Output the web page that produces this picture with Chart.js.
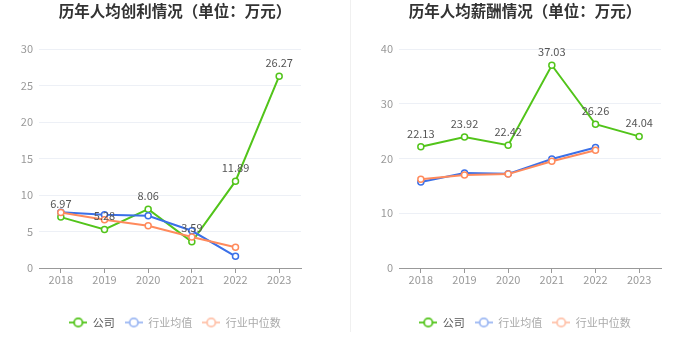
<!DOCTYPE html>
<html>
<head>
<meta charset="utf-8">
<script src="https://cdn.jsdelivr.net/npm/chart.js@4"></script>
<style>
  body { margin: 0; background: #fff; }
  .wrap { position: relative; width: 700px; height: 359px; }
  .box { position: absolute; top: 0; width: 350px; height: 359px; }
  .divider { position: absolute; left: 350px; top: 0; width: 1px; height: 332px; background: #f0f0f0; }
</style>
</head>
<body>
<div class="wrap">
  <div class="box" style="left:0"><canvas id="profitChart" width="350" height="359"></canvas></div>
  <div class="divider"></div>
  <div class="box" style="left:350px"><canvas id="salaryChart" width="350" height="359"></canvas></div>
</div>
<script>
const years = ['2018', '2019', '2020', '2021', '2022', '2023'];
const seriesNames = ['公司', '行业均值', '行业中位数'];

// 人均创利
const profitCompany = [6.97, 5.28, 8.06, 3.59, 11.89, 26.27];
const profitAvg = [7.65, 7.28, 7.15, 5.1, 1.6, null];
const profitMedian = [7.6, 6.6, 5.8, 4.25, 2.85, null];

// 人均薪酬
const salaryCompany = [22.13, 23.92, 22.42, 37.03, 26.26, 24.04];
const salaryAvg = [15.7, 17.35, 17.2, 19.9, 22.0, null];
const salaryMedian = [16.2, 17.0, 17.15, 19.5, 21.5, null];

const colors = ['#52C41A', '#3B70E8', '#FF8A5C'];
const legendColors = ['#52C41A', '#9DB8F3', '#FFC2AA'];
const legendText = ['#555', '#aaa', '#aaa'];
const font = '"Noto Sans CJK SC", "Noto Sans", sans-serif';

function legendIcon(color) {
  const c = document.createElement('canvas');
  c.width = 18; c.height = 12;
  const g = c.getContext('2d');
  g.strokeStyle = color;
  g.lineWidth = 1.8;
  g.beginPath(); g.moveTo(0, 6); g.lineTo(18, 6); g.stroke();
  g.fillStyle = '#fff';
  g.beginPath(); g.arc(9, 6, 4.2, 0, Math.PI * 2); g.fill(); g.stroke();
  return c;
}
const icons = legendColors.map(legendIcon);

const valueLabels = {
  id: 'valueLabels',
  afterDatasetsDraw(chart) {
    const ctx = chart.ctx;
    const meta = chart.getDatasetMeta(0);
    const data = chart.data.datasets[0].data;
    ctx.save();
    ctx.font = '11px ' + font;
    ctx.fillStyle = '#555';
    ctx.textAlign = 'center';
    ctx.textBaseline = 'bottom';
    meta.data.forEach((pt, i) => {
      ctx.fillText(data[i].toFixed(2), pt.x, pt.y - 8);
    });
    ctx.restore();
  }
};

function makeChart(id, title, series, yMax, yStep, yWidth, padRight) {
  new Chart(document.getElementById(id), {
    type: 'line',
    data: {
      labels: years,
      datasets: series.map((d, i) => ({
        label: seriesNames[i],
        data: d,
        borderColor: colors[i],
        backgroundColor: '#fff',
        borderWidth: 2,
        pointRadius: 3,
        pointBorderWidth: 1.5,
        pointBackgroundColor: '#fff',
        tension: 0,
        order: 3 - i
      }))
    },
    options: {
      responsive: false,
      animation: false,
      layout: { padding: { left: 0, right: 0, top: 0, bottom: 21 } },
      plugins: {
        title: {
          display: true,
          text: title,
          color: '#333',
          font: { family: font, size: 15.5, weight: 'bold' },
          padding: { top: 2, bottom: 28.4 }
        },
        legend: {
          position: 'bottom',
          labels: {
            usePointStyle: true,
            pointStyleWidth: 18,
            padding: 10,
            font: { family: font, size: 11 },
            generateLabels: () => seriesNames.map((n, i) => ({
              text: n,
              pointStyle: icons[i],
              fontColor: legendText[i],
              strokeStyle: legendColors[i],
              fillStyle: '#fff',
              lineWidth: 0,
              datasetIndex: i
            }))
          }
        },
        tooltip: { enabled: false }
      },
      scales: {
        x: {
          offset: true,
          afterFit: s => { s.height = 39; },
          grid: { offset: false, drawOnChartArea: false, drawTicks: true, tickLength: 5, color: '#999' },
          border: { display: true, color: '#999' },
          ticks: { color: '#999', padding: 0, font: { family: font, size: 11 } }
        },
        y: {
          min: 0,
          max: yMax,
          afterFit: s => { s.width = yWidth; },
          grid: { color: '#edf0f6', drawTicks: false },
          border: { display: false },
          ticks: { stepSize: yStep, color: '#999', padding: 6, font: { family: font, size: 11 } }
        },
        // empty right-hand axis: keeps the plot narrower while title and legend stay centred
        spacer: {
          position: 'right',
          afterFit: s => { s.width = padRight; },
          grid: { display: false },
          border: { display: false },
          ticks: { display: false }
        }
      }
    },
    plugins: [valueLabels]
  });
}

makeChart('profitChart', '历年人均创利情况（单位：万元）', [profitCompany, profitAvg, profitMedian], 30, 5, 39, 49);
makeChart('salaryChart', '历年人均薪酬情况（单位：万元）', [salaryCompany, salaryAvg, salaryMedian], 40, 10, 49, 39);
</script>
</body>
</html>
